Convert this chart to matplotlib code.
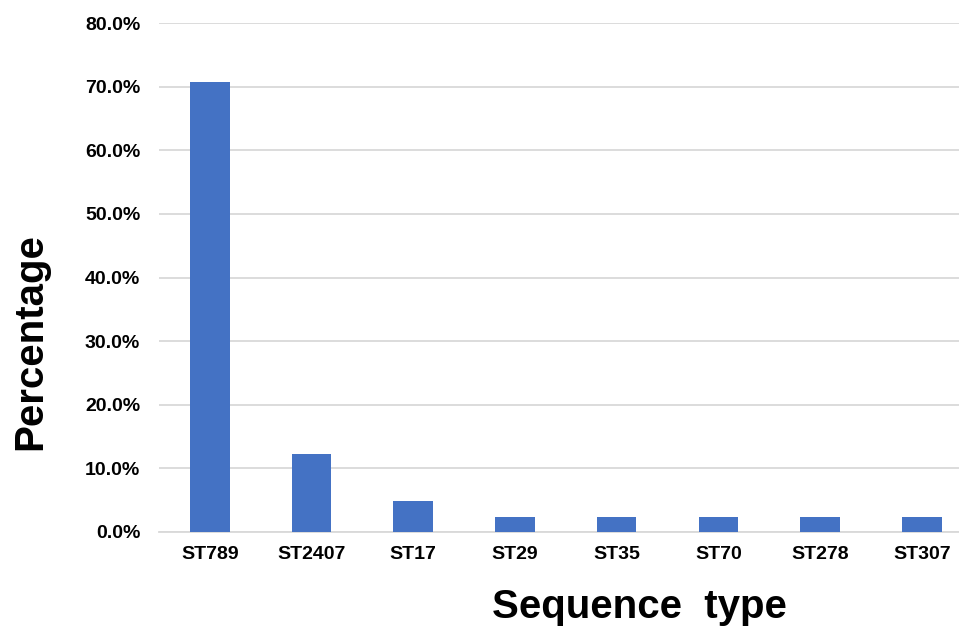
import matplotlib
matplotlib.use("Agg")
import matplotlib.pyplot as plt
from matplotlib.ticker import FuncFormatter, MultipleLocator

categories = ["ST789", "ST2407", "ST17", "ST29", "ST35", "ST70", "ST278", "ST307"]
values = [0.707, 0.122, 0.049, 0.024, 0.024, 0.024, 0.024, 0.024]

plt.rcParams['font.family'] = ['Liberation Sans', 'DejaVu Sans']
plt.rcParams['font.weight'] = 'bold'

W, H = 959, 631
fig = plt.figure(figsize=(W / 100, H / 100), dpi=100)
left, right, top, bottom = 159, 959, 23, 532
ax = fig.add_axes([left / W, (H - bottom) / H, (right - left) / W, (bottom - top) / H])

x = list(range(len(categories)))
ax.bar(x, values, width=0.39, color="#4472C4", zorder=3)

spacing = 101.7
ax.set_xlim(-0.5, -0.5 + (right - left) / spacing)
ax.set_ylim(0, 0.8)
ax.yaxis.set_major_locator(MultipleLocator(0.1))
ax.yaxis.set_major_formatter(FuncFormatter(lambda v, p: f"{v*100:.1f}%"))
ax.set_xticks(x)
ax.set_xticklabels(categories)

ax.grid(axis='y', color="#D9D9D9", linewidth=1.3, zorder=0)
for s in ["top", "right", "left"]:
    ax.spines[s].set_visible(False)
ax.spines["bottom"].set_color("#D9D9D9")
ax.spines["bottom"].set_linewidth(1.3)
ax.tick_params(axis='both', length=0, labelsize=14)
ax.tick_params(axis='y', pad=13.5)
ax.tick_params(axis='x', pad=10)
for lbl in ax.get_xticklabels() + ax.get_yticklabels():
    lbl.set_fontweight('bold')

fig.text(639 / W, 1 - 607 / H, "Sequence  type", fontsize=29, fontweight='bold',
         ha='center', va='center')
fig.text(30 / W, 1 - 342 / H, "Percentage", fontsize=29, fontweight='bold',
         ha='center', va='center', rotation=90)

fig.savefig("out.png", dpi=100)
